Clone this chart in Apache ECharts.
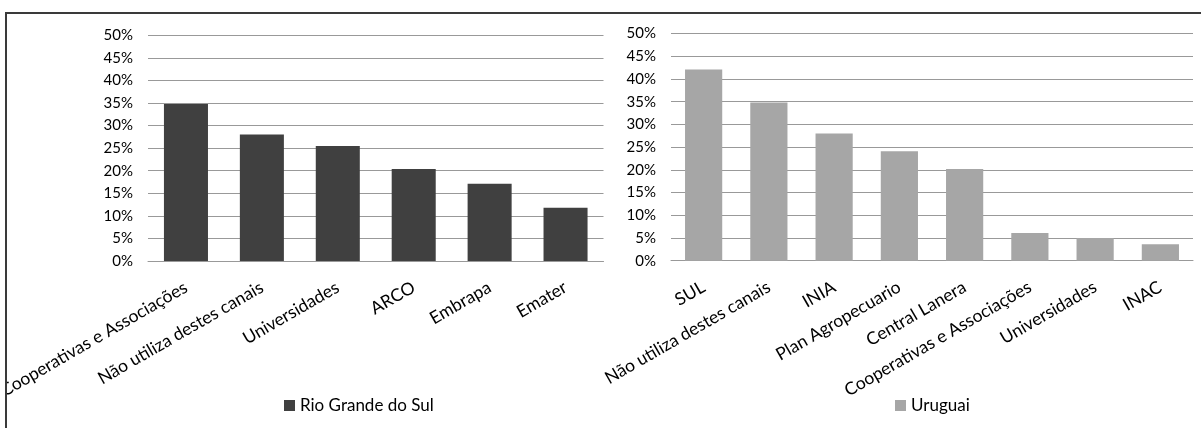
<!DOCTYPE html>
<html>
<head>
<meta charset="utf-8">
<script src="https://cdn.jsdelivr.net/npm/echarts@6/dist/echarts.min.js"></script>
<style>
  html, body { margin: 0; padding: 0; background: #fff; }
  #chart { width: 1201px; height: 428px; }
</style>
</head>
<body>
<div id="chart"></div>
<script>
// Rio Grande do Sul
const rsCategories = ['Cooperativas e Associações', 'Não utiliza destes canais', 'Universidades', 'ARCO', 'Embrapa', 'Emater']
const rsValues = [34.8, 28.0, 25.5, 20.4, 17.1, 11.8]
// Uruguai
const uyCategories = ['SUL', 'Não utiliza destes canais', 'INIA', 'Plan Agropecuario', 'Central Lanera', 'Cooperativas e Associações', 'Universidades', 'INAC']
const uyValues = [42.1, 34.8, 28.0, 24.1, 20.2, 6.1, 5.0, 3.6]
const yTicks = [0, 5, 10, 15, 20, 25, 30, 35, 40, 45, 50]

const font = 'Lato, "Open Sans", sans-serif'
const gridColor = '#999999'

const makeX = (idx, data) => ({
    type: 'category',
    gridIndex: idx,
    data: data,
    axisLine: { show: true, lineStyle: { color: gridColor, width: 1 } },
    axisTick: { show: false },
    axisLabel: {
        interval: 0,
        rotate: 30,
        margin: 25,
        color: '#000',
        fontSize: 17.5,
        fontFamily: font
    }
})

const makeY = (idx) => ({
    type: 'value',
    gridIndex: idx,
    min: yTicks[0],
    max: yTicks[yTicks.length - 1],
    interval: 5,
    axisLine: { show: false },
    axisTick: { show: false },
    splitLine: { lineStyle: { color: gridColor, width: 1 } },
    axisLabel: {
        margin: 15,
        color: '#000',
        fontSize: 15,
        fontFamily: font,
        formatter: '{value}%'
    }
})

const chart = echarts.init(document.getElementById('chart'), null, { renderer: 'canvas' })
chart.setOption({
    animation: false,
    backgroundColor: '#fff',
    grid: [
        // fixed plot boxes, labels may run past the edge
        { left: 148, top: 35.3, width: 455.5, height: 225.7, outerBoundsMode: 'none', containLabel: false },
        { left: 671, top: 33.5, width: 522, height: 227.2, outerBoundsMode: 'none', containLabel: false }
    ],
    xAxis: [makeX(0, rsCategories), makeX(1, uyCategories)],
    yAxis: [makeY(0), makeY(1)],
    legend: [
        {
            data: ['Rio Grande do Sul'],
            left: 279, top: 392,
            icon: 'rect', itemWidth: 11, itemHeight: 11, itemGap: 4,
            textStyle: { fontSize: 17, color: '#000', fontFamily: font }
        },
        {
            data: ['Uruguai'],
            left: 890, top: 392,
            icon: 'rect', itemWidth: 11, itemHeight: 11, itemGap: 4,
            textStyle: { fontSize: 17, color: '#000', fontFamily: font }
        }
    ],
    graphic: [
        // white strip outside the frame so the long label is cut at the border
        {
            type: 'rect',
            z: 100,
            shape: { x: 0, y: 0, width: 6, height: 428 },
            style: { fill: '#fff' },
            silent: true
        },
        {
            type: 'rect',
            z: 101,
            shape: { x: 6, y: 13, width: 1300, height: 600 },
            style: { fill: 'none', stroke: '#3a3a3a', lineWidth: 2 },
            silent: true
        }
    ],
    series: [
        {
            name: 'Rio Grande do Sul',
            type: 'bar',
            xAxisIndex: 0,
            yAxisIndex: 0,
            data: rsValues,
            barCategoryGap: '42%',
            itemStyle: { color: '#404040' }
        },
        {
            name: 'Uruguai',
            type: 'bar',
            xAxisIndex: 1,
            yAxisIndex: 1,
            data: uyValues,
            barCategoryGap: '43%',
            itemStyle: { color: '#a6a6a6' }
        }
    ]
})
</script>
</body>
</html>
